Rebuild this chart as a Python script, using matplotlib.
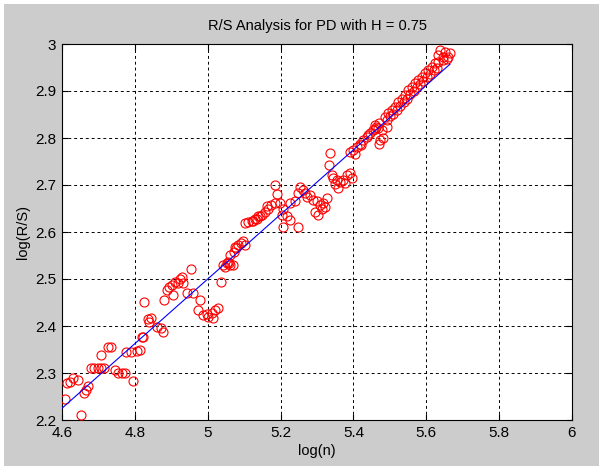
import numpy as np
import matplotlib
matplotlib.use('Agg')
import matplotlib.pyplot as plt

plt.rcParams['font.family'] = ['Liberation Sans', 'DejaVu Sans']

# log(n), log(R/S)
log_n = [
    4.607, 4.652, 4.613, 4.622, 4.630, 4.643, 4.665, 4.661, 4.672,
    4.680, 4.689, 4.698, 4.707, 4.716, 4.707, 4.727, 4.735,
    4.745, 4.753, 4.764, 4.773, 4.796, 4.777, 4.789, 4.805, 4.814,
    4.820, 4.839, 4.823, 4.837, 4.843, 4.860, 4.871, 4.878, 4.826, 4.881,
    4.887, 4.895, 4.901, 4.910, 4.924, 4.929, 4.933, 4.919, 4.904, 4.954,
    4.942, 4.960, 4.980, 4.974, 4.988, 5.002, 5.011, 5.020, 5.029, 5.015,
    4.997, 5.036, 5.047, 5.059, 5.061,
    5.043, 5.052, 5.061, 5.069, 5.057,
    5.071, 5.078, 5.084, 5.090, 5.098, 5.102, 5.075,
    5.102, 5.111, 5.121, 5.130, 5.139, 5.148, 5.157, 5.166, 5.175, 5.185,
    5.125, 5.144, 5.162, 5.134,
    5.185, 5.189, 5.198, 5.207, 5.217, 5.226, 5.203, 5.208,
    5.226, 5.240, 5.249, 5.249,
    5.253, 5.262, 5.267, 5.272, 5.281, 5.290, 5.299, 5.308, 5.317, 5.327,
    5.295, 5.304, 5.313, 5.322,
    5.336, 5.333,
    5.340, 5.345, 5.354, 5.363, 5.372, 5.382, 5.391, 5.395, 5.359, 5.377, 5.349,
    5.391, 5.400, 5.409, 5.418, 5.427, 5.436, 5.445, 5.454, 5.463, 5.471,
    5.404, 5.422, 5.440, 5.458,
    5.471, 5.474, 5.482, 5.478, 5.491, 5.468, 5.459,
    5.487, 5.496, 5.505, 5.514, 5.523, 5.533, 5.542, 5.551, 5.560, 5.569,
    5.578, 5.587, 5.596, 5.605, 5.615, 5.624, 5.633, 5.647,
    5.492, 5.501, 5.510, 5.519, 5.528, 5.538, 5.547, 5.556, 5.565, 5.574,
    5.583, 5.592, 5.601, 5.610, 5.620, 5.629,
    5.638, 5.651, 5.665, 5.647, 5.633, 5.658, 5.660,
]
log_rs = [
    2.245, 2.211, 2.279, 2.281, 2.289, 2.285, 2.264, 2.258, 2.272,
    2.310, 2.310, 2.310, 2.310, 2.310, 2.338, 2.355, 2.355,
    2.306, 2.300, 2.300, 2.300, 2.283, 2.345, 2.345, 2.347, 2.349,
    2.377, 2.409, 2.377, 2.414, 2.416, 2.397, 2.395, 2.388, 2.451, 2.455,
    2.477, 2.482, 2.487, 2.494, 2.501, 2.505, 2.492, 2.491, 2.466, 2.521,
    2.470, 2.470, 2.455, 2.433, 2.423, 2.420, 2.428, 2.434, 2.438, 2.416,
    2.425, 2.494, 2.526, 2.533, 2.551,
    2.530, 2.534, 2.529, 2.530, 2.537,
    2.558, 2.565, 2.572, 2.577, 2.581, 2.572, 2.569,
    2.619, 2.622, 2.624, 2.627, 2.633, 2.636, 2.643, 2.650, 2.657, 2.661,
    2.624, 2.633, 2.655, 2.627,
    2.700, 2.681, 2.661, 2.650, 2.633, 2.626, 2.636, 2.610,
    2.661, 2.665, 2.682, 2.611,
    2.696, 2.689, 2.682, 2.675, 2.679, 2.668, 2.665, 2.657, 2.661, 2.672,
    2.643, 2.636, 2.650, 2.654,
    2.769, 2.743,
    2.721, 2.714, 2.711, 2.707, 2.711, 2.721, 2.726, 2.714, 2.693, 2.704, 2.702,
    2.771, 2.774, 2.781, 2.788, 2.796, 2.803, 2.810, 2.817, 2.824, 2.831,
    2.767, 2.785, 2.806, 2.820,
    2.788, 2.796, 2.799, 2.817, 2.824, 2.821, 2.828,
    2.845, 2.853, 2.860, 2.867, 2.877, 2.884, 2.891, 2.902, 2.909, 2.916,
    2.923, 2.930, 2.938, 2.945, 2.952, 2.959, 2.962, 2.966,
    2.838, 2.846, 2.852, 2.860, 2.868, 2.876, 2.883, 2.893, 2.900, 2.908,
    2.915, 2.921, 2.930, 2.936, 2.944, 2.950,
    2.987, 2.984, 2.980, 2.973, 2.977, 2.968, 2.972,
]

# fitted line endpoints
fit_x = [4.6, 5.665]
fit_y = [2.225, 2.957]

xticks = [4.6, 4.8, 5, 5.2, 5.4, 5.6, 5.8, 6]
yticks = [2.2, 2.3, 2.4, 2.5, 2.6, 2.7, 2.8, 2.9, 3]

fig = plt.figure(figsize=(5.99, 4.66), dpi=100, facecolor='#cccccc')
# thin window border at top / left like the screenshot
fig.patches.append(plt.Rectangle((0, 1 - 4/466), 1, 4/466, transform=fig.transFigure,
                                 facecolor='white', edgecolor='none'))
fig.patches.append(plt.Rectangle((0, 0), 4/599, 1, transform=fig.transFigure,
                                 facecolor='white', edgecolor='none'))

ax = fig.add_axes([62/599, 1 - 420/466, 510/599, 376/466])
ax.set_facecolor('white')

ax.plot(log_n, log_rs, 'o', mfc='none', mec='red', ms=6.5, mew=0.8, zorder=3)
ax.plot(fit_x, fit_y, color='blue', lw=0.8, zorder=4)

ax.set_xlim(4.6, 6)
ax.set_ylim(2.2, 3)
ax.set_xticks(xticks)
ax.set_xticklabels(['4.6', '4.8', '5', '5.2', '5.4', '5.6', '5.8', '6'])
ax.set_yticks(yticks)
ax.set_yticklabels(['2.2', '2.3', '2.4', '2.5', '2.6', '2.7', '2.8', '2.9', '3'])
ax.tick_params(direction='in', length=4, width=0.8, top=True, right=True,
               labelsize=11, colors='black', pad=4)
ax.grid(True, color='black', linestyle=(0, (3, 3)), lw=0.7)
for s in ax.spines.values():
    s.set_color('black')
    s.set_linewidth(0.8)

ax.set_title('R/S Analysis for PD with H = 0.75', fontsize=10.5, pad=10)
ax.set_xlabel('log(n)', fontsize=10.5, labelpad=3)
ax.set_ylabel('log(R/S)', fontsize=10.5, labelpad=4)

plt.savefig('out.png', dpi=100, facecolor='#cccccc')
